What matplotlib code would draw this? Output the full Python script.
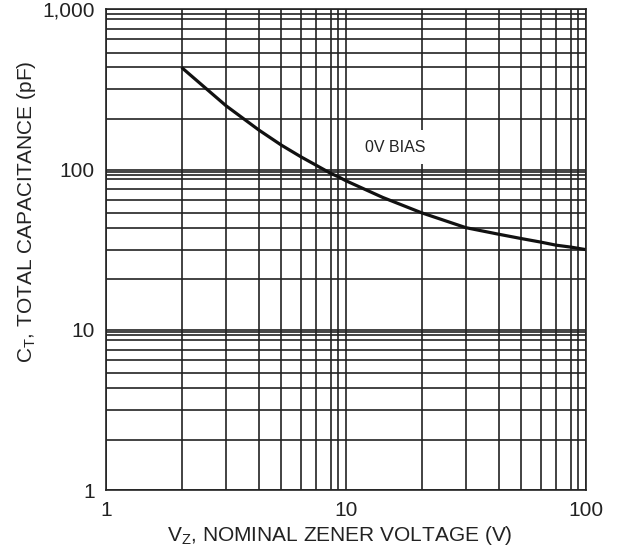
import numpy as np
import matplotlib
matplotlib.use('Agg')
import matplotlib.pyplot as plt
from matplotlib.ticker import FixedLocator, FixedFormatter, NullFormatter

plt.rcParams['font.family'] = ['Liberation Sans', 'DejaVu Sans']
plt.rcParams['mathtext.fontset'] = 'custom'
plt.rcParams['mathtext.rm'] = 'Liberation Sans'
plt.rcParams['mathtext.it'] = 'Liberation Sans'
plt.rcParams['mathtext.default'] = 'regular'

# data (0V bias)
vz = [2, 3, 4, 5, 6, 7, 8, 9, 10, 14, 20, 30, 40, 50, 60, 70, 80, 100]
ct = [400, 240, 172, 140, 119, 106, 92, 85.5, 78.6, 62, 50, 40, 36.7, 34.7, 33.1, 31.8, 31.0, 30]

x_major = [1, 10, 100]
x_major_labels = ['1', '10', '100']
x_minor = [2, 3, 4, 5, 6, 7, 8, 9, 20, 30, 40, 50, 60, 70, 80, 90]
y_major = [1, 10, 100, 1000]
y_major_labels = ['1', '10', '100', '1,000']
y_minor = [2, 3, 4, 5, 6, 7, 8, 9, 9.5, 20, 30, 40, 50, 60, 70, 80, 90, 95,
           200, 300, 400, 500, 600, 700, 800, 900]

# the printed log paper is not exactly logarithmic inside a decade
grid_mant = np.log10(np.arange(1, 11))
grid_frac = [0, 0.315, 0.5, 0.637, 0.73, 0.8125, 0.876, 0.938, 0.968, 1.0]


def fwd(v):
    lg = np.log10(np.maximum(np.asarray(v, dtype=float), 1e-12))
    d = np.floor(lg)
    return d + np.interp(lg - d, grid_mant, grid_frac)


def inv(p):
    p = np.asarray(p, dtype=float)
    d = np.floor(p)
    return 10 ** (d + np.interp(p - d, grid_frac, grid_mant))


fig = plt.figure(figsize=(6.18, 5.51), dpi=100)
ax = fig.add_axes([106 / 618, 61 / 551, 480 / 618, 480.7 / 551])

ax.set_xscale('function', functions=(fwd, inv))
ax.set_yscale('function', functions=(fwd, inv))
ax.set_xlim(1, 100)
ax.set_ylim(1, 1000)

ax.xaxis.set_major_locator(FixedLocator(x_major))
ax.xaxis.set_major_formatter(FixedFormatter(x_major_labels))
ax.xaxis.set_minor_locator(FixedLocator(x_minor))
ax.xaxis.set_minor_formatter(NullFormatter())
ax.yaxis.set_major_locator(FixedLocator(y_major))
ax.yaxis.set_major_formatter(FixedFormatter(y_major_labels))
ax.yaxis.set_minor_locator(FixedLocator(y_minor))
ax.yaxis.set_minor_formatter(NullFormatter())

ax.set_axisbelow(True)
ax.grid(True, which='both', color='#222222', lw=1.2)
ax.tick_params(which='both', length=0, labelsize=15, colors='#222222')
ax.tick_params(axis='x', pad=8)
ax.tick_params(axis='y', pad=8)
for s in ax.spines.values():
    s.set_color('#222222')
    s.set_linewidth(1.2)

ax.plot(vz, ct, color='#111111', lw=2.3, solid_capstyle='butt')

ax.text(0.6035, 0.7135, '0V BIAS', transform=ax.transAxes, fontsize=11.5,
        ha='center', va='center', color='#222222',
        bbox=dict(boxstyle='square,pad=0.62', fc='white', ec='none'))

ax.set_xlabel('V$_Z$, NOMINAL ZENER VOLTAGE (V)', fontsize=15, color='#222222')
ax.set_ylabel('C$_T$, TOTAL CAPACITANCE (pF)', fontsize=15, color='#222222')
ax.xaxis.set_label_coords(0.4875, -0.07)
ax.yaxis.set_label_coords(-0.142, 0.58)

fig.savefig('out.png', dpi=100)
